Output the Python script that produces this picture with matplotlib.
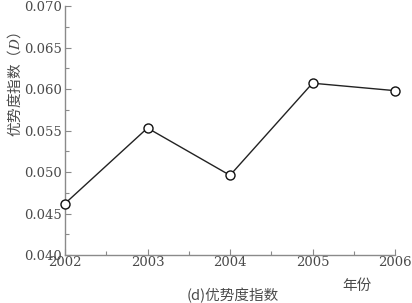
import matplotlib
matplotlib.use("Agg")
import matplotlib.pyplot as plt
from matplotlib.ticker import MultipleLocator, FormatStrFormatter

# Dominance index by year
YEARS = [2002, 2003, 2004, 2005, 2006]
DOMINANCE = [0.0462, 0.0553, 0.0496, 0.0607, 0.0598]
Y_TICKS = [0.040, 0.045, 0.050, 0.055, 0.060, 0.065, 0.070]

plt.rcParams["mathtext.fontset"] = "stix"

NUM_FONT = ["DejaVu Serif"]
CJK_FONT = ["Noto Sans CJK SC", "DejaVu Sans"]
AXIS_GRAY = "#8a8a8a"
TEXT_GRAY = "#4a4a4a"

fig = plt.figure(figsize=(4.12, 3.03), dpi=100)
ax = fig.add_axes([65 / 412, 48 / 303, 330 / 412, 249 / 303])

ax.plot(YEARS, DOMINANCE, color="#222222", linewidth=1.0, marker="o",
        markersize=6.5, markerfacecolor="white", markeredgecolor="#111111",
        markeredgewidth=1.0, clip_on=False, zorder=3)

ax.set_xlim(2002, 2006)
ax.set_ylim(0.040, 0.070)
ax.set_xticks(YEARS)
ax.set_yticks(Y_TICKS)
ax.xaxis.set_minor_locator(MultipleLocator(0.5))
ax.yaxis.set_minor_locator(MultipleLocator(0.0025))
ax.yaxis.set_major_formatter(FormatStrFormatter("%.3f"))

for side in ("top", "right"):
    ax.spines[side].set_visible(False)
for side in ("left", "bottom"):
    ax.spines[side].set_color(AXIS_GRAY)
    ax.spines[side].set_linewidth(1.0)

ax.tick_params(which="both", direction="in", color=AXIS_GRAY, width=0.8)
ax.tick_params(which="major", length=4, labelsize=9.5, labelcolor=TEXT_GRAY)
ax.tick_params(axis="y", which="major", pad=2)
ax.tick_params(axis="x", which="major", pad=1)
ax.tick_params(which="minor", length=3)
for lab in ax.get_xticklabels() + ax.get_yticklabels():
    lab.set_family(NUM_FONT)

# Y label with italic D
fig.text(14 / 412, 1 - 85 / 303, "优势度指数（$D$）", rotation=90, ha="center", va="center",
         fontsize=10.5, color=TEXT_GRAY, family=CJK_FONT)

fig.text(357 / 412, 1 - 286 / 303, "年份", ha="center", va="center",
         fontsize=10.5, color=TEXT_GRAY, family=CJK_FONT)
fig.text(233 / 412, 1 - 296 / 303, "(d)优势度指数", ha="center", va="center",
         fontsize=10.5, color=TEXT_GRAY, family=CJK_FONT)

fig.savefig("out.png", dpi=100)
